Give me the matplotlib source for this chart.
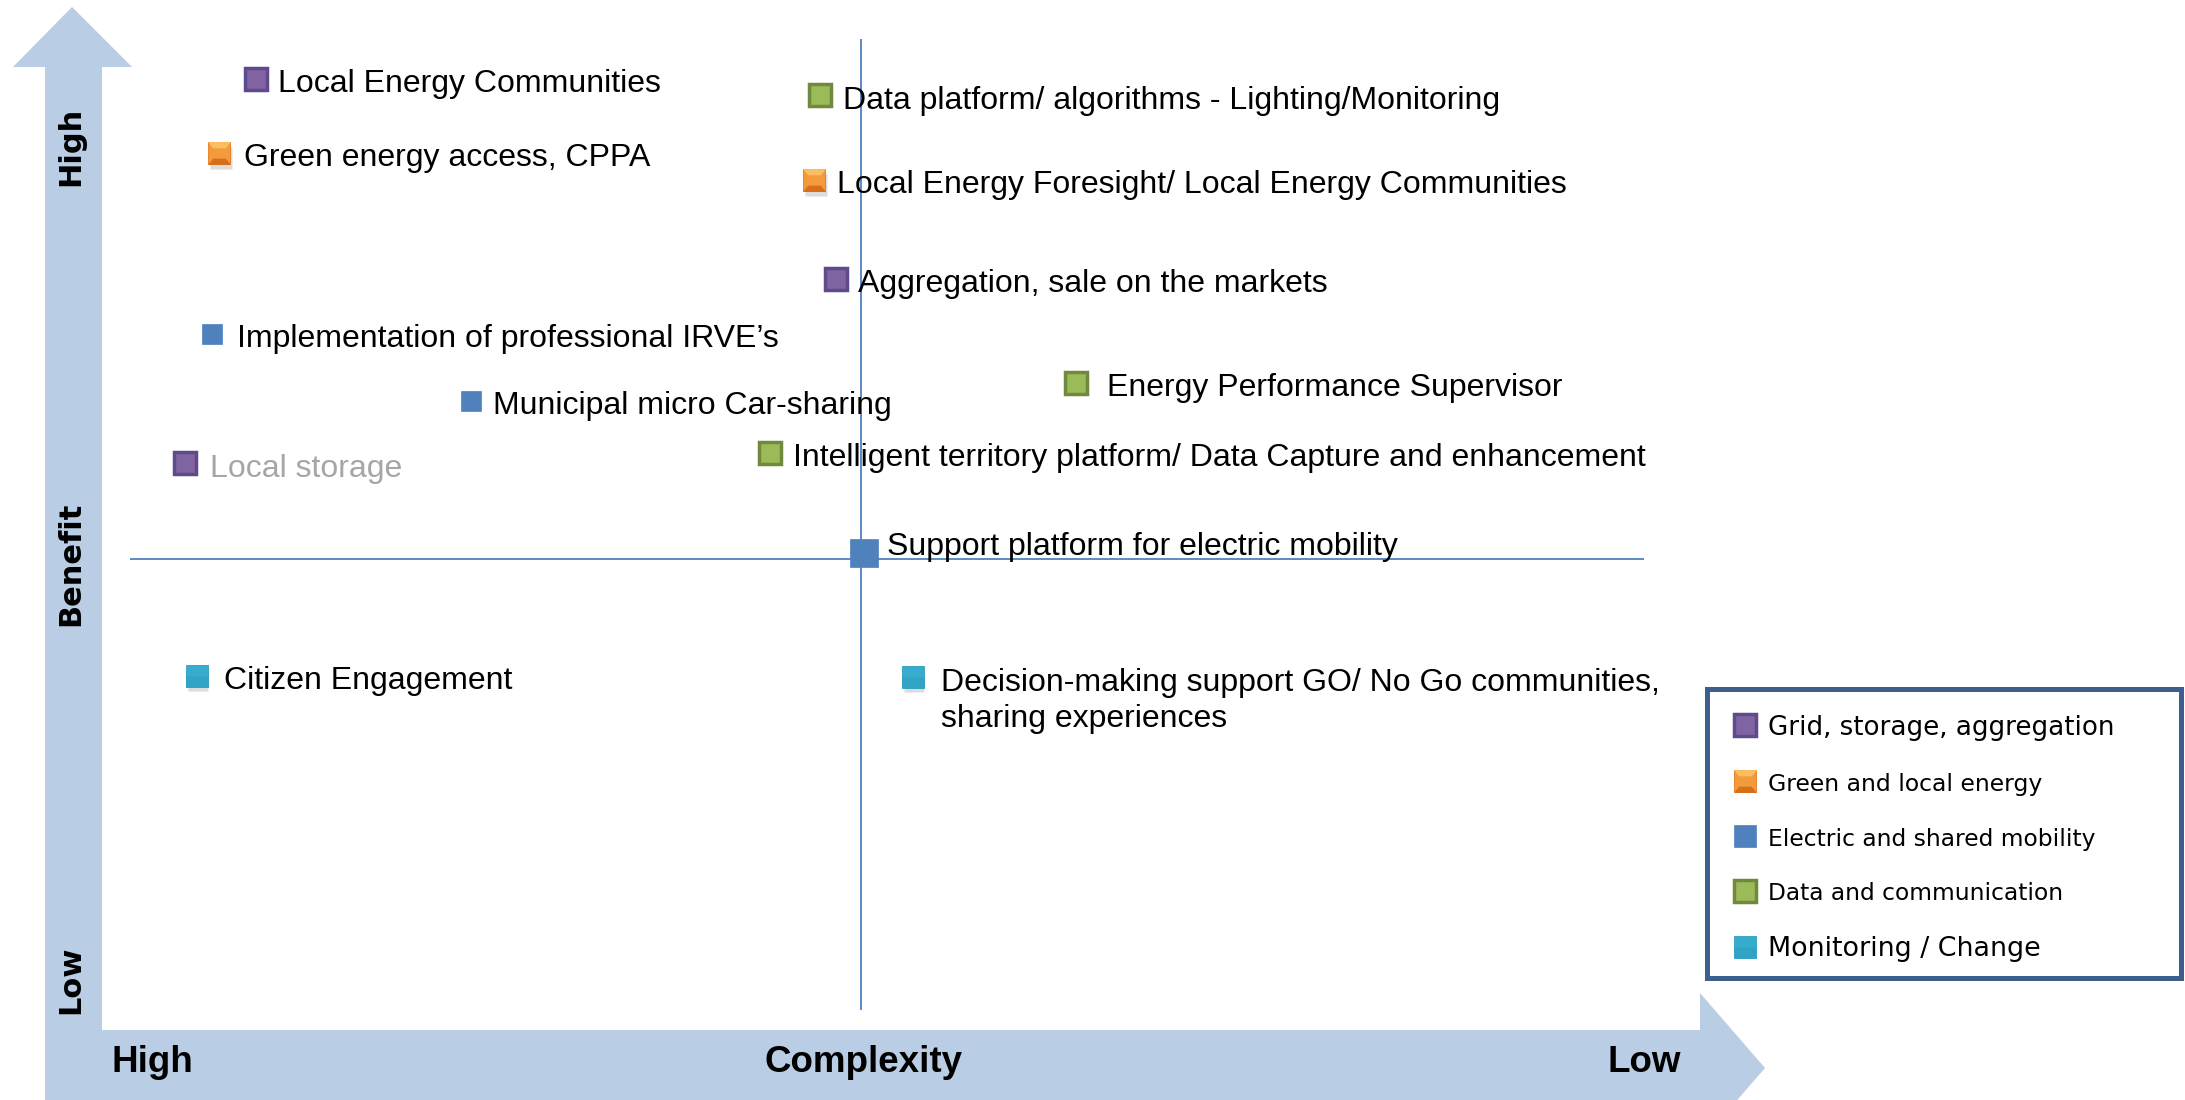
import matplotlib
matplotlib.use("Agg")
import matplotlib.pyplot as plt
from matplotlib.patches import Polygon, Rectangle
from matplotlib.lines import Line2D
from matplotlib.path import Path
from matplotlib.transforms import offset_copy

# ---------------- data ----------------
categories = ["Grid, storage, aggregation", "Green and local energy",
              "Electric and shared mobility", "Data and communication",
              "Monitoring / Change"]

labels = [
    "Local Energy Communities",
    "Green energy access, CPPA",
    "Data platform/ algorithms - Lighting/Monitoring",
    "Local Energy Foresight/ Local Energy Communities",
    "Aggregation, sale on the markets",
    "Implementation of professional IRVE\u2019s",
    "Energy Performance Supervisor",
    "Municipal micro Car-sharing",
    "Intelligent territory platform/ Data Capture and enhancement",
    "Local storage",
    "Support platform for electric mobility",
    "Citizen Engagement",
    "Decision-making support GO/ No Go communities,\nsharing experiences",
]
category = [0, 1, 3, 1, 0, 2, 3, 2, 3, 0, 2, 4, 4]
# complexity axis: 0 = high complexity (left) ... 10 = low complexity (right)
complexity = [0.83, 0.59, 4.56, 4.52, 4.66, 0.54, 6.25, 2.25, 4.23, 0.36, 4.85, 0.44, 5.17]
# benefit axis: 0 = low ... 10 = high
benefit = [9.59, 8.83, 9.42, 8.55, 7.53, 6.96, 6.46, 6.27, 5.74, 5.63, 4.71, 3.44, 3.43]

complexity_split = 4.83
benefit_split = 4.64

# ---------------- styles ----------------
cat_face = ["#8064A2", "#F39A3A", "#4F81BD", "#9BBB59", "#36ADCD"]
cat_edge = ["#5F4B8B", "#E27A22", "#4F81BD", "#71893F", "#2D9EC0"]
cat_size = [16.5, 16.5, 15, 16, 15.5]
cat_mew = [2.5, 0.6, 0.5, 2.5, 0.6]
cat_shadow = [False, True, False, False, True]
legend_font = [18.8, 16.9, 16.8, 16.8, 19.4]
big_label = "Support platform for electric mobility"
grey_label = "Local storage"
two_line_label = "Decision-making support GO/ No Go communities,\nsharing experiences"
dx_default = 16
dx_special = {"Energy Performance Supervisor": 22,
              "Implementation of professional IRVE\u2019s": 18.5,
              two_line_label: 20,
              "Citizen Engagement": 19.5,
              "Local storage": 18,
              "Green energy access, CPPA": 18}

# bevel facets for the "Green and local energy" marker
top_facet = Path([(-1, 1), (1, 1), (0.55, 0.45), (-0.55, 0.45), (-1, 1)])
bot_facet = Path([(-1, -1), (1, -1), (0.55, -0.45), (-0.55, -0.45), (-1, -1)])
bottom_half = Path([(-1, -1), (1, -1), (1, 0.0), (-1, 0.0), (-1, -1)])


def draw_marker(ax, c, x, y, ms, **kw):
    """Draw the category marker (with bevel / gradient imitation)."""
    ax.plot([x], [y], marker="s", ms=ms, mfc=cat_face[c], mec=cat_edge[c],
            mew=cat_mew[c], ls="none", **kw)
    if c == 1:
        ax.plot([x], [y], marker=top_facet, ms=ms, mfc="#FBBE62",
                mec="none", ls="none", **kw)
        ax.plot([x], [y], marker=bot_facet, ms=ms, mfc="#D86E1A",
                mec="none", ls="none", **kw)
    if c == 4:
        ax.plot([x], [y], marker=bottom_half, ms=ms, mfc="#2C9BBD",
                mec="none", ls="none", alpha=0.45, **kw)


W, H = 2185, 1100
fig = plt.figure(figsize=(W / 100, H / 100), dpi=100)

# background axes in pixel units for the arrow decoration
bg = fig.add_axes([0, 0, 1, 1])
bg.set_xlim(0, W)
bg.set_ylim(H, 0)
bg.axis("off")
arrow_col = "#B9CDE5"
arrow = Polygon([(45, 1110), (45, 67), (13, 67), (72, 7), (132, 67), (102, 67),
                 (102, 1030), (1700, 1030), (1700, 993), (1765, 1068),
                 (1700, 1143), (1700, 1110)],
                closed=True, facecolor=arrow_col, edgecolor="none", zorder=0)
bg.add_patch(arrow)

vfont = dict(family="DejaVu Sans", weight="bold", fontsize=22, rotation=90,
             ha="center", va="center", color="black")
bg.text(71, 146, "High", **vfont)
bg.text(71, 564, "Benefit", **vfont)
bg.text(71, 980, "Low", **vfont)
hfont = dict(family="Liberation Sans", weight="bold", fontsize=26.5, va="center",
             color="black")
bg.text(111, 1063, "High", ha="left", **hfont)
bg.text(864, 1063, "Complexity", ha="center", **hfont)
bg.text(1607, 1063, "Low", ha="left", **hfont)

# legend frame
bg.add_patch(Rectangle((1707, 689), 2181 - 1707, 978 - 689, facecolor="white",
                       edgecolor="#3D5F8F", linewidth=3.6, zorder=2))

# data axes covering the quadrant area
x0, x1, y0, y1 = 130, 1644, 39, 1010
ax = fig.add_axes([x0 / W, 1 - y1 / H, (x1 - x0) / W, (y1 - y0) / H])
ax.set_xlim(0, 10)
ax.set_ylim(0, 10)
ax.axis("off")
ax.patch.set_alpha(0)

line_col = "#5A8AC6"
ax.axvline(complexity_split, color=line_col, lw=1.4, zorder=1)
ax.axhline(benefit_split, color=line_col, lw=1.4, zorder=1)

shadow_tr = offset_copy(ax.transData, fig=fig, x=1.5, y=-5, units="dots")

for lab, cx, by, c in zip(labels, complexity, benefit, category):
    ms = cat_size[c]
    if lab == big_label:
        ms = 20
    if cat_shadow[c]:
        ax.plot([cx], [by], marker="s", ms=ms * 0.95, color="#8C8C8C", alpha=0.3,
                mec="none", transform=shadow_tr, zorder=2, clip_on=False)
    draw_marker(ax, c, cx, by, ms, zorder=3, clip_on=False)
    dx = dx_special.get(lab, dx_default)
    if lab == big_label:
        dy = -2
    elif lab == two_line_label:
        dy = -36
    else:
        dy = -9.5
    ax.annotate(lab, (cx, by), xytext=(dx, dy), textcoords="offset points",
                ha="left", va="baseline", family="Liberation Sans",
                fontsize=23, linespacing=1.27,
                color="#A6A6A6" if lab == grey_label else "black", zorder=5,
                annotation_clip=False)

# legend
handles = []
for i in range(len(categories)):
    parts = [Line2D([], [], marker="s", ls="none", ms=16.5, mfc=cat_face[i],
                    mec=cat_edge[i], mew=cat_mew[i])]
    if i == 1:
        parts.append(Line2D([], [], marker=top_facet, ls="none", ms=16.5,
                            mfc="#FBBE62", mec="none"))
        parts.append(Line2D([], [], marker=bot_facet, ls="none", ms=16.5,
                            mfc="#D86E1A", mec="none"))
    if i == 4:
        parts.append(Line2D([], [], marker=bottom_half, ls="none", ms=16.5,
                            mfc="#2C9BBD", mec="none", alpha=0.45))
    handles.append(tuple(parts))
leg = fig.legend(handles, categories, loc="upper left",
                 bbox_to_anchor=(1733 / W, 1 - 715 / H),
                 bbox_transform=fig.transFigure, frameon=False,
                 prop={"family": "DejaVu Sans", "size": 17.5},
                 handlelength=1.0, handletextpad=0.43, labelspacing=1.26,
                 borderpad=0, borderaxespad=0, handleheight=1.0)
leg.set_zorder(6)
for t, fs in zip(leg.get_texts(), legend_font):
    t.set_fontsize(fs)

fig.savefig("out.png", dpi=100)
